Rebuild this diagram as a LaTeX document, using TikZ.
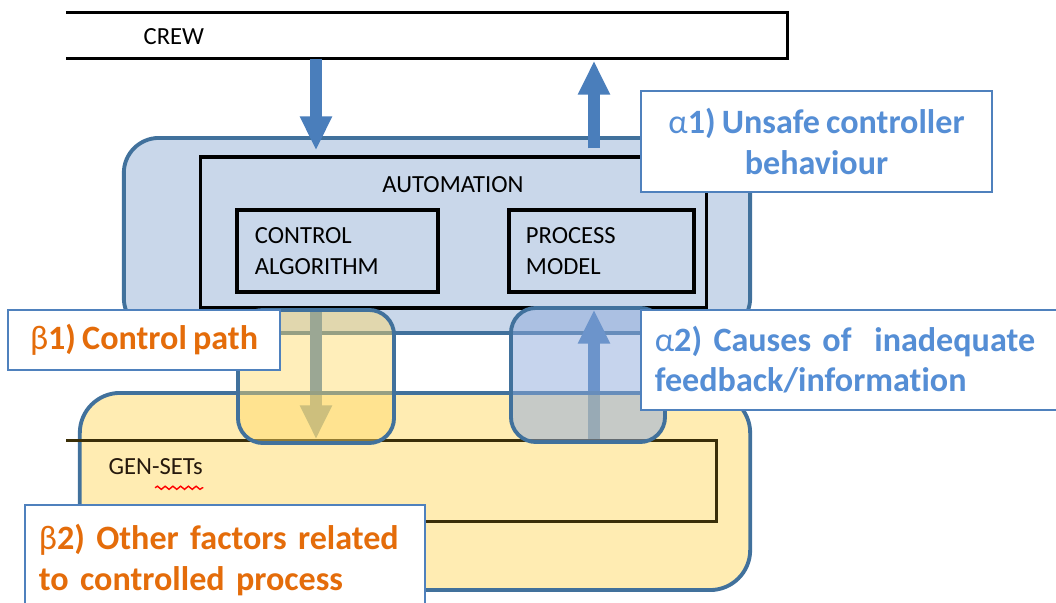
\documentclass[tikz,border=0pt]{standalone}
\usepackage{fontspec}
\setmainfont[Ligatures=NoCommon,WordSpace=0.8]{Carlito}
\usepackage{xcolor}
\usetikzlibrary{arrows.meta,positioning,decorations.pathmorphing}

\definecolor{ctrlblue}{HTML}{C9D7EA}
\definecolor{edgeblue}{HTML}{41719C}
\definecolor{arrowblue}{HTML}{4A7EBB}
\definecolor{procyellow}{HTML}{FFD966}
\definecolor{fbblue}{HTML}{8EAADB}
\definecolor{calloutedge}{HTML}{4F81BD}
\definecolor{alphatext}{HTML}{558ED5}
\definecolor{betatext}{HTML}{E46C0A}
\definecolor{genline}{HTML}{3A2E08}

\tikzset{
  blockbox/.style={draw=black,line width=0.9pt,inner sep=0pt},
  openbox/.style={inner sep=0pt},
  roundedge/.style={draw=edgeblue,line width=1.1pt},
  smalltext/.style={font=\fontsize{7}{8.6}\selectfont,inner sep=0pt},
  callout/.style={draw=calloutedge,fill=white,line width=0.6pt,
    font=\bfseries\fontsize{9.7}{11.4}\selectfont},
  flow/.style={arrowblue,line width=3.4pt,-{Triangle[width=0.3cm,length=0.34cm]}}
}

\begin{document}
\begin{tikzpicture}[x=0.01cm,y=-0.01cm]
			\useasboundingbox (0,0) rectangle (1056,603);

			% crew (left side cut off)
			\node[openbox,minimum width=7.2cm,minimum height=0.45cm] (crew) at (427,35.5) {};
			\draw[line width=0.9pt] (crew.north west) -- (crew.north east) -- (crew.south east) -- (crew.south west);
			\node[smalltext,anchor=west] (crewtext) at (143,37) {CREW};

			% controller
			\node[roundedge,fill=ctrlblue,rounded corners=0.35cm,minimum width=6.26cm,minimum height=1.95cm] (ctrl) at (437,235.5) {};
			\node[blockbox,minimum width=5.05cm,minimum height=1.51cm] (automation) at (453.5,232.5) {};
			\node[smalltext] (autotext) at (453,185) {AUTOMATION};
			\node[blockbox,smalltext,align=left,text width=1.65cm,inner xsep=0.18cm,minimum height=0.82cm] (calgo) at (337.5,251) {CONTROL\\ALGORITHM};
			\node[blockbox,smalltext,align=left,text width=1.51cm,inner xsep=0.17cm,minimum height=0.82cm] (pmodel) at (601.5,251) {PROCESS\\MODEL};

			% arrows to and from the crew
			\coordinate (cmd) at (316,0);
			\coordinate (fb) at (594,0);
			\draw[flow,shorten >=0.05cm] (crew.south -| cmd) -- (automation.north -| cmd);
			\draw[flow,shorten <=0.07cm,shorten >=0.02cm] (automation.north -| fb) -- (crew.south -| fb);

			% gen-sets (left side cut off)
			\node[openbox,minimum width=6.49cm,minimum height=0.8cm] (gensets) at (391.5,481) {};

			% control path and feedback arrows
			\draw[flow,shorten >=0.01cm] (automation.south -| cmd) -- (gensets.north -| cmd);
			\draw[flow] (gensets.north -| fb) -- (automation.south -| fb);

			% controlled process
			\node[roundedge,fill=procyellow,fill opacity=0.5,rounded corners=0.4cm,minimum width=6.7cm,minimum height=1.97cm] (process) at (415,491.5) {};
			\draw[genline,line width=0.9pt] (gensets.north west) -- (gensets.north east) -- (gensets.south east) -- (gensets.south west);
			\node[smalltext,anchor=west,text=black!80!brown] (gentext) at (108,467) {GEN-SETs};
			\draw[red,line width=0.4pt,decorate,decoration={snake,amplitude=0.45pt,segment length=2.2pt}] ([xshift=0.47cm,yshift=-0.12cm]gentext.south west) -- ([yshift=-0.12cm]gentext.south east);

			\node[roundedge,fill=procyellow,fill opacity=0.45,rounded corners=0.25cm,minimum width=1.56cm,minimum height=1.33cm] (ctrlpath) at (316,376.5) {};
			\node[roundedge,fill=fbblue,fill opacity=0.5,rounded corners=0.25cm,minimum width=1.54cm,minimum height=1.34cm] (feedback) at (588,375) {};

			% labels
			\node[callout,text=alphatext,align=center,minimum width=3.51cm,minimum height=1.01cm] (unsafe) at (816.5,141.5) {{\mdseries α}1) Unsafe controller\\behaviour};
			\node[callout,text=betatext,minimum width=2.72cm,minimum height=0.6cm] (pathlbl) at (144,340) {{\mdseries β}1) Control path};
			\node[callout,text=alphatext,align=left,text width=4.01cm,inner xsep=0.14cm,minimum height=1.0cm] (inadequate) at (855.5,360) {{\mdseries α}2) Causes of\ \ inadequate\\feedback/information};
			\node[callout,text=betatext,align=left,text width=3.72cm,inner xsep=0.14cm,minimum height=1.1cm] (otherfac) at (225,560) {{\mdseries β}2) Other factors related\\to controlled process};

		\end{tikzpicture}
\end{document}
